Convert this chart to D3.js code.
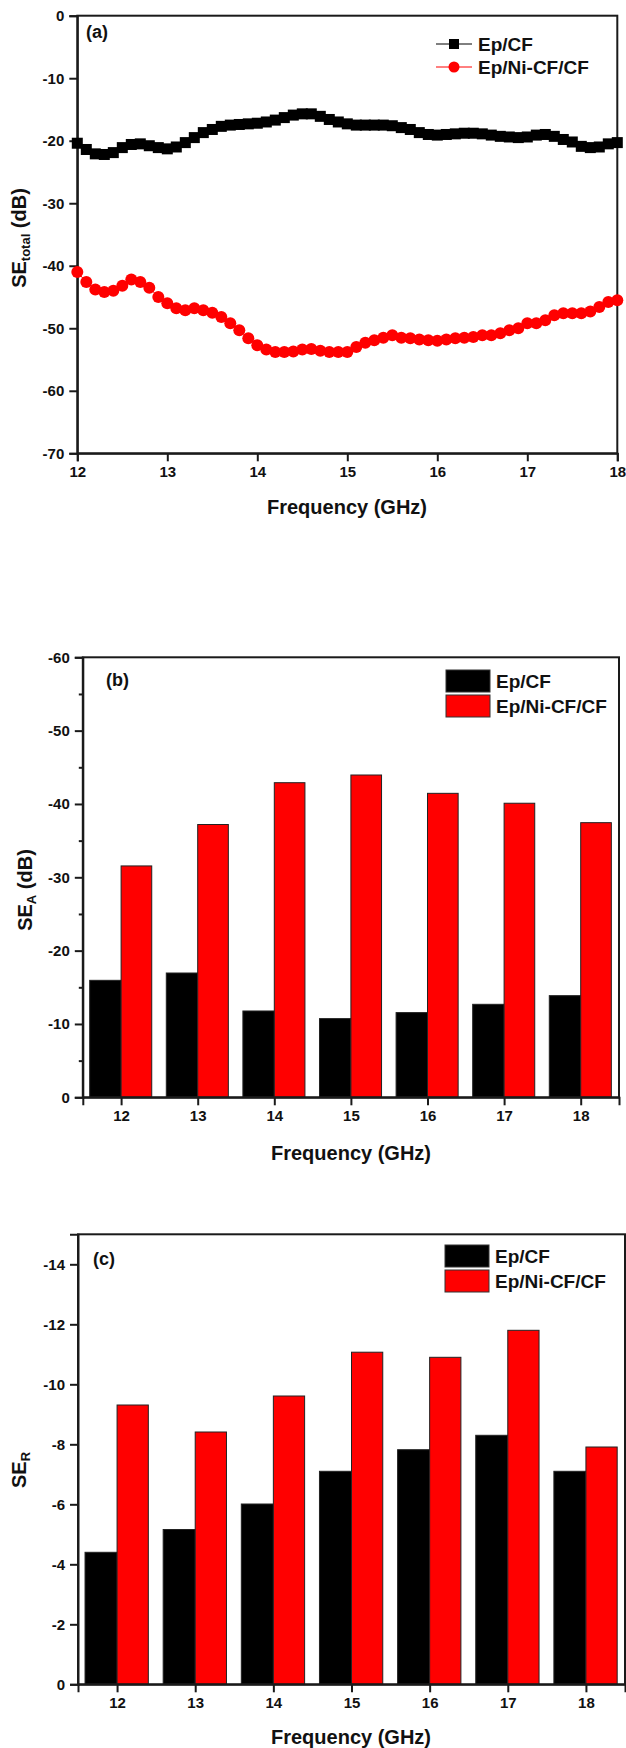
<!DOCTYPE html>
<html>
<head>
<meta charset="utf-8">
<script src="https://cdn.jsdelivr.net/npm/d3@7"></script>
<style>
  body { margin: 0; background: #fff; }
  svg text { font-family: "Liberation Sans", Arial, sans-serif; font-weight: bold; fill: #111; }
</style>
</head>
<body>
<div id="chart"></div>
<script>
// data
var seriesNames = ["Ep/CF", "Ep/Ni-CF/CF"];

var freqs = [12.0, 12.1, 12.2, 12.3, 12.4, 12.5, 12.6, 12.7, 12.8, 12.9,
  13.0, 13.1, 13.2, 13.3, 13.4, 13.5, 13.6, 13.7, 13.8, 13.9,
  14.0, 14.1, 14.2, 14.3, 14.4, 14.5, 14.6, 14.7, 14.8, 14.9,
  15.0, 15.1, 15.2, 15.3, 15.4, 15.5, 15.6, 15.7, 15.8, 15.9,
  16.0, 16.1, 16.2, 16.3, 16.4, 16.5, 16.6, 16.7, 16.8, 16.9,
  17.0, 17.1, 17.2, 17.3, 17.4, 17.5, 17.6, 17.7, 17.8, 17.9, 18.0];

var seTotalEpCF = [-20.4, -21.4, -22.1, -22.2, -21.9, -21.1, -20.6, -20.5, -20.8, -21.1,
  -21.3, -21.0, -20.3, -19.5, -18.7, -18.2, -17.7, -17.5, -17.4, -17.3,
  -17.2, -17.0, -16.7, -16.3, -15.9, -15.7, -15.7, -16.1, -16.6, -17.0,
  -17.3, -17.5, -17.5, -17.5, -17.5, -17.6, -17.9, -18.2, -18.7, -19.0,
  -19.1, -19.0, -18.9, -18.8, -18.8, -18.9, -19.1, -19.3, -19.4, -19.5,
  -19.4, -19.1, -19.0, -19.3, -19.8, -20.2, -20.9, -21.1, -21.0, -20.5, -20.3];

var seTotalEpNiCF = [-41.0, -42.6, -43.8, -44.2, -44.0, -43.2, -42.2, -42.6, -43.5, -45.0,
  -46.0, -46.8, -47.1, -46.8, -47.1, -47.5, -48.2, -49.2, -50.3, -51.6,
  -52.7, -53.4, -53.8, -53.8, -53.7, -53.4, -53.3, -53.6, -53.8, -53.8,
  -53.8, -53.0, -52.3, -51.9, -51.5, -51.1, -51.5, -51.6, -51.8, -51.9,
  -52.0, -51.8, -51.6, -51.5, -51.4, -51.1, -51.1, -50.8, -50.3, -50.0,
  -49.2, -49.2, -48.7, -47.9, -47.6, -47.6, -47.6, -47.3, -46.6, -45.8, -45.5];

var barFreqs = [12, 13, 14, 15, 16, 17, 18];
var seAEpCF = [-15.95, -16.95, -11.77, -10.73, -11.55, -12.68, -13.86];
var seAEpNiCF = [-31.55, -37.2, -42.9, -43.95, -41.45, -40.1, -37.45];
var seREpCF = [-4.4, -5.16, -6.01, -7.1, -7.82, -8.3, -7.1];
var seREpNiCF = [-9.31, -8.41, -9.61, -11.07, -10.9, -11.8, -7.91];

var freqTicks = [12, 13, 14, 15, 16, 17, 18];
var ticksA = [0, -10, -20, -30, -40, -50, -60, -70];
var ticksB = [0, -10, -20, -30, -40, -50, -60];
var minorB = [-5, -15, -25, -35, -45, -55];
var ticksC = [0, -2, -4, -6, -8, -10, -12, -14];

var svgWidth = 626;
var svgHeight = 1748;

var svg = d3.select("#chart")
  .append("svg")
  .attr("width", svgWidth)
  .attr("height", svgHeight);

function drawFrame(x, y) {
  var r = x.range(), top = d3.min(y.range()), bottom = d3.max(y.range());
  svg.append("rect")
    .attr("x", r[0]).attr("y", top)
    .attr("width", r[1] - r[0]).attr("height", bottom - top)
    .attr("fill", "none")
    .attr("stroke", "#1a1a1a")
    .attr("stroke-width", 2);
}

function drawAxes(x, y, yTicks, yMinor) {
  var xAxis = d3.axisBottom(x).tickValues(freqTicks).tickSize(8).tickPadding(5)
    .tickFormat(d => String(d));
  var yAxis = d3.axisLeft(y).tickValues(yTicks).tickSize(8).tickPadding(5)
    .tickFormat(d => String(d));

  var gx = svg.append("g")
    .attr("transform", `translate(0, ${d3.max(y.range())})`)
    .call(xAxis);
  var gy = svg.append("g")
    .attr("transform", `translate(${x.range()[0]}, 0)`)
    .call(yAxis);

  if (yMinor) {
    svg.append("g")
      .attr("transform", `translate(${x.range()[0]}, 0)`)
      .call(d3.axisLeft(y).tickValues(yMinor).tickSize(4).tickFormat(""))
      .select(".domain").remove();
  }

  svg.selectAll(".domain").attr("stroke", "#1a1a1a").attr("stroke-width", 2);
  svg.selectAll(".tick line").attr("stroke", "#1a1a1a").attr("stroke-width", 2);
  [gx, gy].forEach(g => g.selectAll("text")
    .attr("font-size", 15)
    .attr("font-family", "'Liberation Sans', Arial, sans-serif")
    .attr("font-weight", "bold")
    .attr("fill", "#111"));
}

function xTitle(cx, yPos) {
  svg.append("text")
    .attr("x", cx).attr("y", yPos)
    .attr("text-anchor", "middle")
    .attr("font-size", 20)
    .text("Frequency (GHz)");
}

function yTitle(xPos, cy, sub, tail) {
  var t = svg.append("text")
    .attr("transform", `translate(${xPos}, ${cy}) rotate(-90)`)
    .attr("text-anchor", "middle")
    .attr("font-size", 20);
  t.append("tspan").text("SE");
  t.append("tspan").attr("font-size", 13).attr("dy", 4).text(sub);
  if (tail) t.append("tspan").attr("dy", -4).text(tail);
}

function panelLabel(px, py, s) {
  svg.append("text").attr("x", px).attr("y", py).attr("font-size", 18).text(s);
}

// ---------- (a) SE total ----------
var xA = d3.scaleLinear().domain([12, 18]).range([77.3, 617.3]);
var yA = d3.scaleLinear().domain([0, -70]).range([15.7, 453.3]);

drawAxes(xA, yA, ticksA);
drawFrame(xA, yA);

var lineA = d3.line().x((d, i) => xA(freqs[i])).y(d => yA(d));

svg.append("path").datum(seTotalEpCF)
  .attr("d", lineA).attr("fill", "none").attr("stroke", "#000").attr("stroke-width", 1);
svg.append("path").datum(seTotalEpNiCF)
  .attr("d", lineA).attr("fill", "none").attr("stroke", "#ff0000").attr("stroke-width", 1);

svg.append("g").selectAll("rect")
  .data(seTotalEpCF)
  .enter()
  .append("rect")
  .attr("x", (d, i) => xA(freqs[i]) - 5.5)
  .attr("y", d => yA(d) - 5.5)
  .attr("width", 11).attr("height", 11)
  .attr("fill", "#000");

svg.append("g").selectAll("circle")
  .data(seTotalEpNiCF)
  .enter()
  .append("circle")
  .attr("cx", (d, i) => xA(freqs[i]))
  .attr("cy", d => yA(d))
  .attr("r", 6)
  .attr("fill", "#ff0000");

// legend (a)
var legA = [{ y: 44, c: "#000", shape: "square" }, { y: 67, c: "#ff0000", shape: "circle" }];
legA.forEach(function (l, i) {
  svg.append("line").attr("x1", 436).attr("x2", 472).attr("y1", l.y).attr("y2", l.y)
    .attr("stroke", l.c).attr("stroke-width", 1);
  if (l.shape === "square") {
    svg.append("rect").attr("x", 449).attr("y", l.y - 5).attr("width", 10).attr("height", 10).attr("fill", l.c);
  } else {
    svg.append("circle").attr("cx", 454).attr("cy", l.y).attr("r", 5.5).attr("fill", l.c);
  }
  svg.append("text").attr("x", 478).attr("y", l.y + 6.5).attr("font-size", 19).text(seriesNames[i]);
});

panelLabel(86, 38, "(a)");
xTitle(347, 514);
yTitle(26, 238, "total", " (dB)");

// ---------- bar panels ----------
function barPanel(x, y, valsBlack, valsRed, yTicks, yMinor) {
  var base = y(0);
  svg.append("g").selectAll("rect")
    .data(valsBlack)
    .enter()
    .append("rect")
    .attr("x", (d, i) => x(barFreqs[i] - 0.41))
    .attr("y", d => y(d))
    .attr("width", (d, i) => x(barFreqs[i]) - x(barFreqs[i] - 0.41))
    .attr("height", d => base - y(d))
    .attr("fill", "#000")
    .attr("stroke", "#222")
    .attr("stroke-width", 1);

  svg.append("g").selectAll("rect")
    .data(valsRed)
    .enter()
    .append("rect")
    .attr("x", (d, i) => x(barFreqs[i]))
    .attr("y", d => y(d))
    .attr("width", (d, i) => x(barFreqs[i] + 0.4) - x(barFreqs[i]))
    .attr("height", d => base - y(d))
    .attr("fill", "#ff0000")
    .attr("stroke", "#222")
    .attr("stroke-width", 1);

  drawAxes(x, y, yTicks, yMinor);
  drawFrame(x, y);
}

function barLegend(bx, by) {
  var cols = ["#000", "#ff0000"];
  cols.forEach(function (c, i) {
    svg.append("rect")
      .attr("x", bx).attr("y", by + i * 25)
      .attr("width", 44).attr("height", 22)
      .attr("fill", c).attr("stroke", "#333").attr("stroke-width", 1);
    svg.append("text")
      .attr("x", bx + 50).attr("y", by + i * 25 + 18)
      .attr("font-size", 19)
      .text(seriesNames[i]);
  });
}

// ---------- (b) SE A ----------
var xB = d3.scaleLinear().domain([11.5, 18.5]).range([82.8, 619]);
var yB = d3.scaleLinear().domain([0, -60]).range([1097.3, 657.3]);
barPanel(xB, yB, seAEpCF, seAEpNiCF, ticksB, minorB);
barLegend(446, 670);
panelLabel(106, 686, "(b)");
xTitle(351, 1160);
yTitle(32, 890, "A", " (dB)");

// ---------- (c) SE R ----------
var xC = d3.scaleLinear().domain([11.5, 18.5]).range([78, 625]);
var yC = d3.scaleLinear().domain([0, -15]).range([1684.3, 1234.3]);
barPanel(xC, yC, seREpCF, seREpNiCF, ticksC);
barLegend(445, 1245);
panelLabel(93, 1265, "(c)");
xTitle(351, 1744);
yTitle(26, 1470, "R");
</script>
</body>
</html>
